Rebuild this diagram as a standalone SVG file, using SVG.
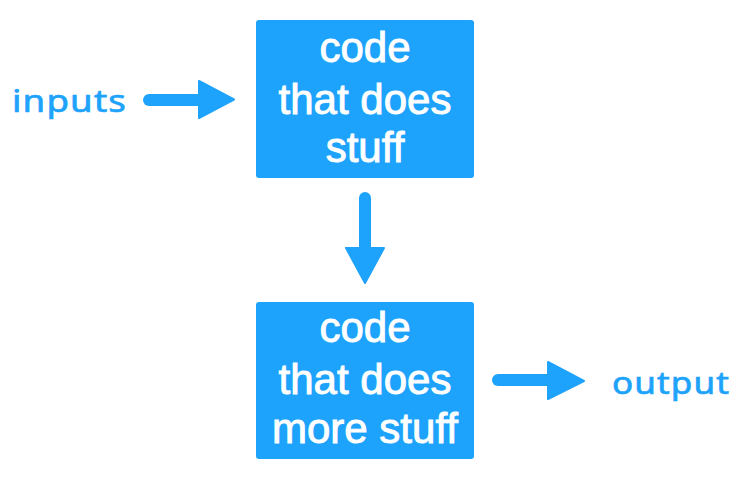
<svg xmlns="http://www.w3.org/2000/svg" width="751" height="482" viewBox="0 0 751 482">
<style>
.box{fill:#1EA3FC;}
.bt{font-family:"Liberation Sans",Arial,sans-serif;font-size:42px;fill:#fff;stroke:#fff;stroke-width:0.9px;text-anchor:middle;}
.lbl{font-family:"Noto Sans","Open Sans",sans-serif;font-size:31px;fill:#1EA3FC;stroke:#1EA3FC;stroke-width:0.7px;letter-spacing:1px;}
.shaft{stroke:#1EA3FC;stroke-width:12;stroke-linecap:round;fill:none;}
.head{fill:#1EA3FC;stroke:#1EA3FC;stroke-width:2;stroke-linejoin:round;}
</style>
<rect width="751" height="482" fill="#fff"/>
<g id="inputs"><text class="lbl" x="12" y="112" textLength="115" lengthAdjust="spacingAndGlyphs">inputs</text></g>
<g id="box1">
<rect class="box" x="256" y="20" width="218" height="158" rx="3"/>
<text class="bt" x="365" y="62">code</text>
<text class="bt" x="365" y="114">that does</text>
<text class="bt" x="365" y="162">stuff</text>
</g>
<g id="box2">
<rect class="box" x="256" y="302" width="218" height="157" rx="3"/>
<text class="bt" x="365" y="342">code</text>
<text class="bt" x="365" y="394">that does</text>
<text class="bt" x="365" y="443">more stuff</text>
</g>
<g id="output"><text class="lbl" x="612" y="394" textLength="118" lengthAdjust="spacingAndGlyphs">output</text></g>
<g id="connectors">
<g id="arrow-in">
<line class="shaft" x1="149" y1="100" x2="202" y2="100"/>
<polygon class="head" points="199,81 234,99.5 199,118"/>
</g>
<g id="arrow-down">
<line class="shaft" x1="365" y1="198" x2="365" y2="250"/>
<polygon class="head" points="346,248 384,248 365,283"/>
</g>
<g id="arrow-out">
<line class="shaft" x1="498" y1="380" x2="551" y2="380"/>
<polygon class="head" points="548,362 584,381 548,399"/>
</g>
</g>
</svg>
